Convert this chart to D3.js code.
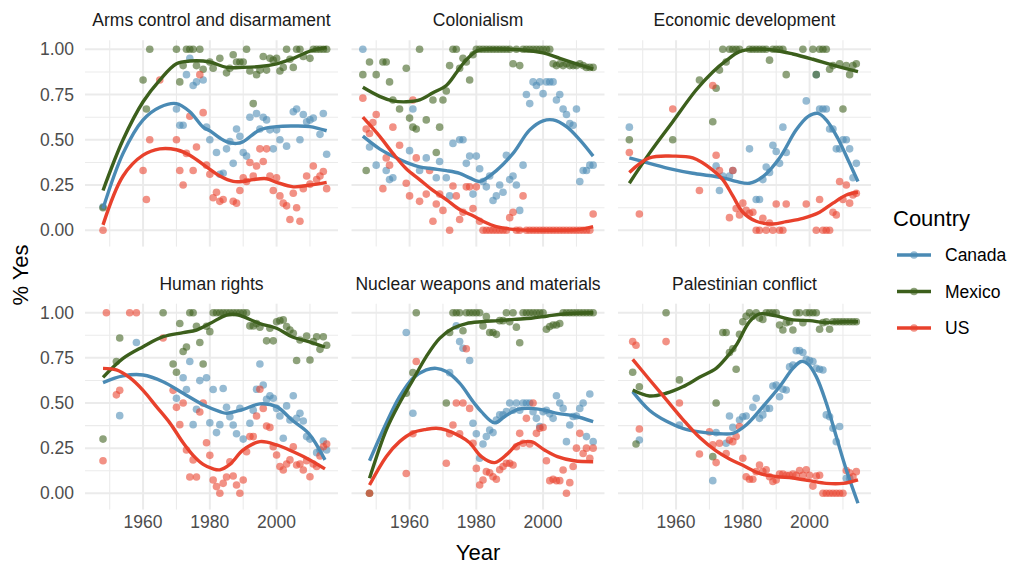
<!DOCTYPE html>
<html><head><meta charset="utf-8">
<script src="https://cdn.jsdelivr.net/npm/d3@7"></script>
<style>body{margin:0;background:#fff}svg{display:block}text{font-family:"Liberation Sans",Arial,Helvetica,sans-serif}</style>
</head><body><svg id="c" width="1016" height="567"></svg>
<script>
// ---------- DATA ----------
const topics = ["Arms control and disarmament","Colonialism","Economic development","Human rights","Nuclear weapons and materials","Palestinian conflict"];
const countries = ["Canada","Mexico","US"];
const yTicks = [0,0.25,0.5,0.75,1];
const yTickLabels = ["0.00","0.25","0.50","0.75","1.00"];
const xTicks = [1960,1980,2000];

// Arms control and disarmament
const armsCanada = [[1948,.13],[1970,.67],[1971,.58],[1972,.58],[1973,.86],[1974,.95],[1975,.80],[1976,.82],[1978,.83],[1979,.57],[1980,.50],[1982,.43],[1983,.31],[1984,.315],[1985,.45],[1986,.49],[1987,.37],[1988,.56],[1989,.52],[1990,.43],[1991,.41],[1992,.625],[1994,.645],[1995,.56],[1996,.625],[1997,.61],[1998,.555],[1999,.45],[2000,.555],[2001,.50],[2003,.465],[2005,.655],[2006,.67],[2007,.50],[2008,.64],[2009,.60],[2010,.61],[2011,.62],[2013,.53],[2014,.645],[2015,.42]];
const armsMexico = [[1948,.125],[1960,.83],[1961,.67],[1962,1],[1970,1],[1971,.82],[1972,.91],[1973,1],[1974,1],[1975,1],[1976,.91],[1977,1],[1978,.89],[1980,.93],[1981,.895],[1983,.95],[1985,.87],[1986,.895],[1987,.97],[1988,.93],[1989,.93],[1990,.93],[1991,1],[1992,.88],[1993,.70],[1994,.86],[1995,.885],[1996,.96],[1997,.885],[1998,.95],[1999,.94],[2000,.95],[2001,.88],[2002,.90],[2003,1],[2004,.945],[2005,.90],[2006,1],[2007,1],[2008,.96],[2010,.95],[2011,1],[2012,1],[2013,1],[2014,1],[2015,1]];
const armsUS = [[1948,0],[1960,.33],[1961,.17],[1962,.50],[1965,.83],[1970,.50],[1971,.33],[1972,.25],[1973,.425],[1974,.63],[1975,.33],[1976,.46],[1977,.86],[1978,.65],[1979,.36],[1980,.31],[1981,.18],[1982,.21],[1983,.16],[1984,.17],[1987,.16],[1988,.15],[1989,.22],[1990,.29],[1991,.27],[1992,.375],[1993,.30],[1994,.355],[1995,.45],[1996,.38],[1997,.45],[1998,.30],[1999,.22],[2000,.29],[2001,.19],[2002,.15],[2003,.135],[2004,.06],[2005,.205],[2006,.125],[2007,.05],[2008,.23],[2009,.30],[2010,.255],[2011,.355],[2012,.28],[2013,.30],[2014,.325],[2015,.23]];
const armsCanadaFit = [[1948,.12],[1954,.425],[1960,.61],[1965,.68],[1970,.70],[1974,.655],[1978,.57],[1980,.55],[1983,.51],[1985,.49],[1988,.48],[1990,.49],[1995,.555],[2000,.573],[2005,.576],[2010,.573],[2015,.55]];
const armsMexicoFit = [[1948,.22],[1954,.5],[1960,.71],[1965,.83],[1970,.92],[1974,.935],[1980,.93],[1985,.90],[1990,.90],[1995,.905],[2000,.92],[2005,.95],[2010,.99],[2015,1.01]];
const armsUSFit = [[1948,.03],[1954,.30],[1960,.415],[1965,.45],[1970,.445],[1974,.415],[1979,.35],[1983,.30],[1987,.27],[1990,.27],[1993,.28],[1997,.285],[2000,.265],[2005,.24],[2010,.25],[2015,.265]];

// Colonialism
const colCanada = [[1946,1],[1948,.46],[1950,.36],[1953,.33],[1954,.28],[1955,.29],[1960,.44],[1961,.67],[1963,.33],[1965,.40],[1968,.29],[1969,.38],[1971,.29],[1972,.19],[1973,.48],[1975,.50],[1976,.50],[1977,.37],[1978,.41],[1979,.20],[1980,.41],[1981,.34],[1982,.27],[1983,.24],[1984,.30],[1985,.165],[1986,.19],[1987,.25],[1988,.21],[1989,.415],[1990,.28],[1991,.30],[1992,.25],[1993,.11],[1994,.36],[1995,.75],[1996,.70],[1997,.82],[1998,.80],[1999,.82],[2000,.755],[2001,.82],[2002,.82],[2003,.82],[2004,.72],[2005,.75],[2006,.67],[2007,.64],[2008,.59],[2009,.58],[2010,.67],[2011,.27],[2012,.33],[2013,.33],[2014,.36],[2015,.36]];
const colMexico = [[1946,.86],[1947,.33],[1948,.93],[1950,.86],[1952,.93],[1953,.93],[1954,.82],[1955,.72],[1957,.67],[1959,.895],[1960,.62],[1961,.57],[1962,.56],[1963,1],[1965,.61],[1967,.72],[1968,.43],[1969,.57],[1970,.72],[1971,.77],[1972,.91],[1973,1],[1974,1],[1975,.895],[1976,.95],[1977,.93],[1978,.83],[1979,.97],[1980,1],[1981,1],[1982,1],[1983,1],[1984,1],[1985,1],[1986,1],[1987,1],[1988,1],[1989,1],[1990,1],[1991,.92],[1992,1],[1993,.91],[1994,1],[1995,1],[1996,1],[1997,1],[1998,1],[1999,1],[2000,1],[2001,1],[2002,1],[2003,.92],[2004,.91],[2005,.92],[2006,.91],[2007,.92],[2008,.91],[2009,.91],[2010,.91],[2011,.92],[2012,.91],[2013,.90],[2014,.90],[2015,.90]];
const colUS = [[1946,.73],[1947,.56],[1948,.535],[1949,.595],[1950,.64],[1952,.23],[1953,.40],[1954,.36],[1955,.57],[1957,.47],[1959,.26],[1960,.19],[1961,.72],[1962,.40],[1963,.16],[1965,.20],[1966,.33],[1967,.05],[1968,.145],[1969,.20],[1970,.11],[1972,0],[1973,.245],[1974,.19],[1975,.06],[1976,.10],[1977,.24],[1978,.24],[1979,.12],[1980,.24],[1981,.05],[1982,0],[1983,0],[1984,0],[1985,0],[1986,0],[1987,0],[1988,0],[1989,0],[1990,.07],[1991,.10],[1992,0],[1993,0],[1994,.19],[1995,0],[1996,0],[1997,0],[1998,0],[1999,0],[2000,0],[2001,0],[2002,0],[2003,0],[2004,0],[2005,0],[2006,0],[2007,0],[2008,0],[2009,0],[2010,0],[2011,0],[2012,0],[2013,0],[2014,0],[2015,.09]];
const colCanadaFit = [[1946,.52],[1951,.45],[1955,.41],[1959,.375],[1963,.35],[1967,.34],[1971,.33],[1975,.315],[1978,.29],[1981,.27],[1986,.33],[1991,.425],[1996,.555],[2000,.605],[2003,.61],[2007,.573],[2011,.50],[2015,.41]];
const colMexicoFit = [[1946,.79],[1951,.74],[1955,.715],[1959,.71],[1963,.72],[1967,.76],[1971,.80],[1974,.87],[1976,.92],[1978,.96],[1980,.99],[1983,1.0],[1990,1.0],[1995,.995],[2000,.98],[2005,.95],[2010,.92],[2015,.89]];
const colUSFit = [[1946,.625],[1951,.52],[1955,.425],[1959,.34],[1963,.28],[1967,.22],[1971,.17],[1975,.115],[1979,.08],[1982,.05],[1986,.02],[1991,.005],[2001,0],[2011,.005],[2015,.02]];

// Economic development
const econCanada = [[1946,.57],[1972,.355],[1973,.22],[1974,.30],[1976,.30],[1977,.33],[1982,.45],[1984,.17],[1985,.17],[1986,.28],[1987,.35],[1988,.32],[1989,.47],[1990,.435],[1991,.37],[1992,.57],[1993,.43],[1999,.715],[2002,.86],[2003,.67],[2004,.67],[2005,.67],[2006,.56],[2007,.56],[2008,.45],[2009,.45],[2010,.50],[2011,.50],[2012,.45],[2013,.29],[2014,.37]];
const econMexico = [[1946,.50],[1959,.50],[1967,.83],[1971,.60],[1972,.785],[1973,.885],[1974,1],[1975,.93],[1976,1],[1977,1],[1978,1],[1979,1],[1982,1],[1983,1],[1984,1],[1985,1],[1986,1],[1987,1],[1988,.94],[1989,1],[1990,1],[1991,1],[1992,1],[1993,.86],[1998,1],[2001,1],[2002,.86],[2003,1],[2004,1],[2005,1],[2006,.89],[2007,.91],[2009,.92],[2010,.67],[2011,.91],[2012,.86],[2013,.91],[2014,.92]];
const econUS = [[1946,.43],[1949,.09],[1959,.67],[1967,.22],[1971,.80],[1972,.415],[1973,.33],[1976,.07],[1977,.33],[1978,.12],[1979,.085],[1980,.15],[1981,.11],[1982,.094],[1983,.10],[1984,0],[1985,0],[1986,.066],[1987,0],[1988,.04],[1989,0],[1990,.145],[1991,0],[1992,0],[1993,.145],[1999,.145],[2002,0],[2003,.17],[2004,0],[2005,0],[2006,0],[2007,.10],[2008,.085],[2009,.27],[2010,.17],[2011,.25],[2012,.15],[2013,.195],[2014,.205]];
const econCanadaFit = [[1946,.40],[1952,.37],[1959,.337],[1965,.315],[1971,.30],[1975,.285],[1978,.27],[1982,.26],[1986,.296],[1991,.40],[1996,.555],[1999.5,.628],[2002.5,.646],[2005,.61],[2008.4,.51],[2012,.37],[2014.5,.27]];
const econMexicoFit = [[1946,.26],[1952,.425],[1959,.60],[1966,.775],[1971,.875],[1975,.937],[1979,.987],[1983,1.0],[1989,.996],[1995,.974],[2001,.945],[2007,.913],[2014.5,.877]];
const econUSFit = [[1946,.32],[1952,.40],[1959,.41],[1965,.40],[1971,.333],[1974,.28],[1977,.19],[1980,.10],[1984,.05],[1989,.035],[1993,.048],[1998,.066],[2003,.10],[2007,.15],[2011,.195],[2014.5,.21]];

// Human rights
const humCanada = [[1953,.43],[1958,.835],[1970,.526],[1972,.64],[1973,.575],[1974,.73],[1975,.38],[1976,.465],[1977,.624],[1979,.64],[1980,.39],[1981,.575],[1982,.336],[1983,.38],[1984,.58],[1985,.476],[1986,.424],[1987,.378],[1988,.33],[1989,.47],[1990,.30],[1992,.388],[1993,.46],[1994,.576],[1995,.716],[1996,.60],[1997,.52],[1998,.54],[1999,.526],[2000,.47],[2001,.428],[2002,.305],[2003,.484],[2004,.406],[2005,.54],[2006,.415],[2007,.443],[2008,.40],[2009,.314],[2010,.30],[2012,.225],[2013,.24],[2014,.29],[2015,.24]];
const humMexico = [[1948,.30],[1952,.73],[1953,.86],[1966,1],[1969,.716],[1970,.67],[1971,.94],[1972,.785],[1973,.81],[1974,1],[1975,1],[1976,.925],[1977,.835],[1978,.716],[1979,.925],[1980,.895],[1981,1],[1982,1],[1983,1],[1984,1],[1985,1],[1986,1],[1987,1],[1988,1],[1989,1],[1990,1],[1991,1],[1992,.927],[1993,.927],[1994,.94],[1995,.92],[1997,.844],[1998,.914],[1999,.844],[2000,.95],[2001,.956],[2002,.96],[2003,.923],[2004,.904],[2005,.886],[2006,.735],[2007,.849],[2009,.871],[2010,.738],[2011,.84],[2012,.867],[2013,.797],[2014,.867],[2015,.82]];
const humUS = [[1948,.18],[1949,1],[1952,.545],[1953,.57],[1956,1],[1958,1],[1966,.86],[1969,.57],[1970,.476],[1971,.38],[1972,.50],[1973,.24],[1974,.09],[1975,.185],[1976,.09],[1977,.45],[1978,.50],[1979,.28],[1980,.21],[1981,.074],[1982,.037],[1983,0],[1984,.055],[1985,.09],[1986,.175],[1987,.096],[1988,.046],[1989,0],[1990,.074],[1991,.23],[1992,.314],[1993,.314],[1994,.428],[1995,.576],[1996,.47],[1997,.373],[1998,.365],[1999,.258],[2000,.212],[2001,.148],[2002,.129],[2003,.162],[2004,.185],[2005,.258],[2006,.157],[2007,.162],[2008,.129],[2009,.18],[2010,.092],[2011,.162],[2012,.148],[2013,.207],[2014,.258],[2015,.273]];
const humCanadaFit = [[1948,.613],[1954,.65],[1960,.655],[1966,.618],[1972,.554],[1978,.49],[1983,.452],[1985,.443],[1990,.465],[1995,.495],[2000,.48],[2004.6,.406],[2009.6,.332],[2014.5,.185]];
const humMexicoFit = [[1948,.642],[1954,.747],[1960,.812],[1966,.867],[1972,.89],[1976,.904],[1980,.94],[1985,.987],[1988,.99],[1990,.978],[1995,.94],[2000,.914],[2004.6,.867],[2009.6,.84],[2014.5,.81]];
const humUSFit = [[1948,.692],[1952,.683],[1956,.64],[1960,.57],[1964,.48],[1968,.39],[1972,.28],[1975,.21],[1978,.16],[1981,.135],[1983,.13],[1986,.16],[1990,.24],[1995,.286],[2000,.268],[2005,.23],[2010,.185],[2014.5,.135]];

// Nuclear weapons and materials
const nucCanada = [[1959,.89],[1961,.443],[1972,.668],[1974,.927],[1975,.84],[1976,.803],[1978,.735],[1979,.388],[1980,.33],[1981,.194],[1982,.273],[1983,.314],[1984,.35],[1985,.336],[1986,.406],[1987,.434],[1988,.434],[1989,.452],[1990,.50],[1991,.46],[1992,.50],[1993,.46],[1994,.50],[1995,.50],[1996,.50],[1997,.452],[1998,.415],[1999,.37],[2000,.452],[2001,.46],[2002,.44],[2003,.415],[2004,.54],[2005,.50],[2006,.47],[2007,.286],[2008,.378],[2009,.425],[2010,.428],[2011,.47],[2012,.50],[2013,.314],[2014,.55],[2015,.286]];
const nucMexico = [[1948,0],[1959,.554],[1961,.668],[1962,1],[1971,.50],[1972,.89],[1973,1],[1974,1],[1975,1],[1976,.90],[1977,1],[1978,1],[1979,1],[1980,1],[1981,1],[1982,.927],[1983,.978],[1984,.89],[1985,.89],[1986,.88],[1987,.956],[1988,.956],[1989,1],[1990,.95],[1991,1],[1992,.92],[1993,.834],[1994,1],[1995,1],[1996,1],[1997,1],[1998,1],[1999,1],[2000,1],[2001,.908],[2002,.923],[2003,.932],[2004,.932],[2005,.94],[2006,1],[2007,1],[2008,1],[2009,1],[2010,1],[2011,1],[2012,1],[2013,1],[2014,1],[2015,1]];
const nucUS = [[1948,0],[1959,.11],[1961,.33],[1962,.73],[1971,.166],[1972,.33],[1973,.378],[1974,.50],[1975,.33],[1976,.50],[1977,.80],[1978,.47],[1979,.277],[1980,.138],[1981,.046],[1982,.074],[1983,.12],[1984,.114],[1985,.092],[1986,.078],[1987,.13],[1988,.148],[1989,.166],[1990,.166],[1991,.157],[1992,.258],[1993,.332],[1994,.277],[1995,.415],[1996,.273],[1997,.50],[1998,.332],[1999,.36],[2000,.365],[2001,.18],[2002,.07],[2003,.078],[2004,.07],[2005,.07],[2006,.129],[2007,0],[2008,.059],[2009,.148],[2010,.25],[2011,.332],[2012,.22],[2013,.25],[2014,.194],[2015,.25]];
const nucCanadaFit = [[1948,.18],[1953,.388],[1957,.535],[1961,.637],[1965,.683],[1968,.692],[1971,.674],[1975,.61],[1979,.508],[1981.5,.452],[1985.5,.39],[1988.5,.425],[1992.4,.465],[1996.4,.47],[2000.4,.46],[2004.3,.443],[2009.3,.428],[2015,.397]];
const nucMexicoFit = [[1948,.083],[1953,.35],[1957,.50],[1961,.628],[1965,.757],[1969,.858],[1973,.914],[1977,.94],[1981.5,.95],[1986.5,.956],[1991.4,.963],[1996.4,.969],[2001.4,.982],[2006.3,.993],[2015,1.0]];
const nucUSFit = [[1948,.046],[1953,.203],[1957,.286],[1961,.336],[1965,.354],[1968,.36],[1971,.35],[1975,.317],[1978,.28],[1981.5,.203],[1985.5,.17],[1989.4,.22],[1992.4,.273],[1996.4,.286],[2000.4,.24],[2004.3,.203],[2009.3,.18],[2015,.175]];

// Palestinian conflict
const palCanada = [[1949,.295],[1961,.378],[1971,.07],[1972,.336],[1975,.277],[1976,.428],[1977,.365],[1979,.406],[1980,.424],[1981,.428],[1983,.476],[1984,.526],[1985,.415],[1986,.434],[1987,.47],[1988,.47],[1989,.594],[1990,.60],[1991,.535],[1992,.576],[1993,.572],[1994,.70],[1995,.71],[1996,.79],[1997,.79],[1998,.78],[1999,.742],[2000,.735],[2001,.73],[2002,.692],[2003,.687],[2004,.683],[2005,.434],[2006,.424],[2007,.36],[2008,.286],[2009,.37],[2011,.083],[2012,.083]];
const palMexico = [[1947,.67],[1948,.273],[1949,.59],[1957,1],[1961,.628],[1971,.203],[1972,.50],[1974,.89],[1975,.89],[1976,.78],[1977,.80],[1978,.687],[1979,.88],[1980,.95],[1981,.98],[1982,1],[1983,.98],[1984,1],[1985,.97],[1986,.963],[1987,1],[1988,1],[1989,1],[1990,1],[1991,.932],[1992,.904],[1993,.945],[1994,.95],[1995,.904],[1996,1],[1997,1],[1998,.945],[1999,1],[2000,1],[2001,1],[2002,1],[2003,.908],[2004,.945],[2005,.95],[2006,.908],[2007,.95],[2008,.95],[2009,.95],[2010,.95],[2011,.95],[2012,.95],[2013,.95],[2014,.95]];
const palUS = [[1947,.84],[1948,.82],[1949,.356],[1957,.84],[1961,.50],[1967,.218],[1970,.34],[1971,.268],[1972,.17],[1973,.277],[1975,.22],[1976,.295],[1977,.286],[1978,.314],[1979,.37],[1980,.194],[1981,.092],[1982,.078],[1983,.078],[1984,.12],[1985,.157],[1986,.12],[1987,.13],[1988,.092],[1989,.065],[1990,.074],[1991,.107],[1992,.107],[1993,.10],[1994,.10],[1995,.107],[1996,.10],[1997,.126],[1998,.10],[1999,.13],[2000,.10],[2001,.04],[2002,.096],[2003,.10],[2004,0],[2005,0],[2006,0],[2007,0],[2008,0],[2009,0],[2010,0],[2011,.126],[2012,.114],[2013,.092],[2014,.12]];
const palCanadaFit = [[1947,.563],[1952,.46],[1957,.40],[1962,.36],[1967,.34],[1973,.33],[1977,.332],[1981,.378],[1986,.48],[1991,.59],[1995,.692],[1997.5,.73],[1999.5,.716],[2002,.646],[2005,.50],[2008,.314],[2011,.13],[2014.5,-.055]];
const palMexicoFit = [[1947,.572],[1952,.539],[1957,.554],[1962,.59],[1967,.642],[1972,.692],[1975,.75],[1978,.82],[1982,.95],[1985,.993],[1990,.982],[1995,.96],[2000,.956],[2005,.945],[2010,.95],[2014.5,.95]];
const palUSFit = [[1947,.742],[1952,.63],[1957,.52],[1962,.41],[1967,.31],[1972,.235],[1976,.19],[1980,.155],[1985,.11],[1990,.093],[1995,.085],[2000,.07],[2005,.055],[2010,.055],[2014.5,.075]];

// ---------- ASSEMBLY ----------
const pointSets = [
  [armsCanada, armsMexico, armsUS],[colCanada, colMexico, colUS],[econCanada, econMexico, econUS],
  [humCanada, humMexico, humUS],[nucCanada, nucMexico, nucUS],[palCanada, palMexico, palUS]];
const fitSets = [
  [armsCanadaFit, armsMexicoFit, armsUSFit],[colCanadaFit, colMexicoFit, colUSFit],[econCanadaFit, econMexicoFit, econUSFit],
  [humCanadaFit, humMexicoFit, humUSFit],[nucCanadaFit, nucMexicoFit, nucUSFit],[palCanadaFit, palMexicoFit, palUSFit]];

const color = d3.scaleOrdinal().domain(countries).range(["#4A8AB4","#3C5F1C","#E8412C"]);

const svg = d3.select("#c");
const colLeft = [85, 351.5, 618], panelW = 253;
const rowOne = [{v0:230.3, v1:49.3},{v0:493.3, v1:312.7}];
const yDom = [-0.09, 1.05];
const xDom = [1942.6, 2018.4];
const small = 17.5, big = 22;

topics.forEach((t, i) => {
  const c = i % 3, r = Math.floor(i / 3);
  const x = d3.scaleLinear().domain(xDom).range([colLeft[c], colLeft[c] + panelW]);
  const y0 = d3.scaleLinear().domain([0,1]).range([rowOne[r].v0, rowOne[r].v1]);
  const y = d3.scaleLinear().domain(yDom).range([y0(yDom[0]), y0(yDom[1])]);
  const g = svg.append("g");
  const top = y(yDom[1]), bot = y(yDom[0]);
  const minorY = [0.125,0.375,0.625,0.875];
  const minorX = [1950,1970,1990,2010];
  g.selectAll(".mny").data(minorY).join("line").attr("x1",x.range()[0]).attr("x2",x.range()[1])
    .attr("y1",d=>y(d)).attr("y2",d=>y(d)).attr("stroke","#EBEBEB").attr("stroke-width",1.1);
  g.selectAll(".mnx").data(minorX).join("line").attr("y1",top).attr("y2",bot)
    .attr("x1",d=>x(d)).attr("x2",d=>x(d)).attr("stroke","#EBEBEB").attr("stroke-width",1.1);
  g.selectAll(".mjy").data(yTicks).join("line").attr("x1",x.range()[0]).attr("x2",x.range()[1])
    .attr("y1",d=>y(d)).attr("y2",d=>y(d)).attr("stroke","#EBEBEB").attr("stroke-width",2);
  g.selectAll(".mjx").data(xTicks).join("line").attr("y1",top).attr("y2",bot)
    .attr("x1",d=>x(d)).attr("x2",d=>x(d)).attr("stroke","#EBEBEB").attr("stroke-width",2);
  g.append("text").attr("x",(x.range()[0]+x.range()[1])/2).attr("y",top-14)
    .attr("text-anchor","middle").attr("font-size",small).attr("fill","#1A1A1A").text(t);
  if (c === 0) {
    g.selectAll(".yl").data(yTicks).join("text").attr("x",x.range()[0]-11).attr("y",d=>y(d))
      .attr("dy","0.35em").attr("text-anchor","end").attr("font-size",small).attr("fill","#4D4D4D")
      .text((d,k)=>yTickLabels[k]);
  }
  if (r === 1) {
    g.selectAll(".xl").data(xTicks).join("text").attr("x",d=>x(d)).attr("y",bot+4)
      .attr("dy","0.8em").attr("text-anchor","middle").attr("font-size",small).attr("fill","#4D4D4D")
      .text(d=>d);
  }
  countries.forEach((cn, k) => {
    g.append("g").selectAll("circle").data(pointSets[i][k]).join("circle")
      .attr("cx",d=>x(d[0])).attr("cy",d=>y(d[1])).attr("r",3.8)
      .attr("fill",color(cn)).attr("fill-opacity",0.58);
  });
  const line = d3.line().x(d=>x(d[0])).y(d=>y(d[1])).curve(d3.curveCatmullRom.alpha(0.5));
  countries.forEach((cn, k) => {
    g.append("path").datum(fitSets[i][k]).attr("d",line).attr("fill","none")
      .attr("stroke",color(cn)).attr("stroke-width",3.4);
  });
});

svg.append("text").attr("x",(colLeft[0]+colLeft[2]+panelW)/2).attr("y",560).attr("text-anchor","middle")
  .attr("font-size",big).attr("fill","#000").text("Year");
svg.append("text").attr("transform","translate(28,275) rotate(-90)").attr("text-anchor","middle")
  .attr("font-size",big).attr("fill","#000").text("% Yes");

const lg = svg.append("g").attr("transform","translate(893,0)");
lg.append("text").attr("x",0).attr("y",226).attr("font-size",big).attr("fill","#000").text("Country");
countries.forEach((cn,k)=>{
  const cy = 255 + k*36.5;
  lg.append("line").attr("x1",4).attr("x2",38).attr("y1",cy).attr("y2",cy).attr("stroke",color(cn)).attr("stroke-width",3.4);
  lg.append("circle").attr("cx",21).attr("cy",cy).attr("r",3.8).attr("fill",color(cn)).attr("fill-opacity",0.58);
  lg.append("text").attr("x",52).attr("y",cy).attr("dy","0.35em").attr("font-size",small).attr("fill","#000").text(cn);
});
</script></body></html>
